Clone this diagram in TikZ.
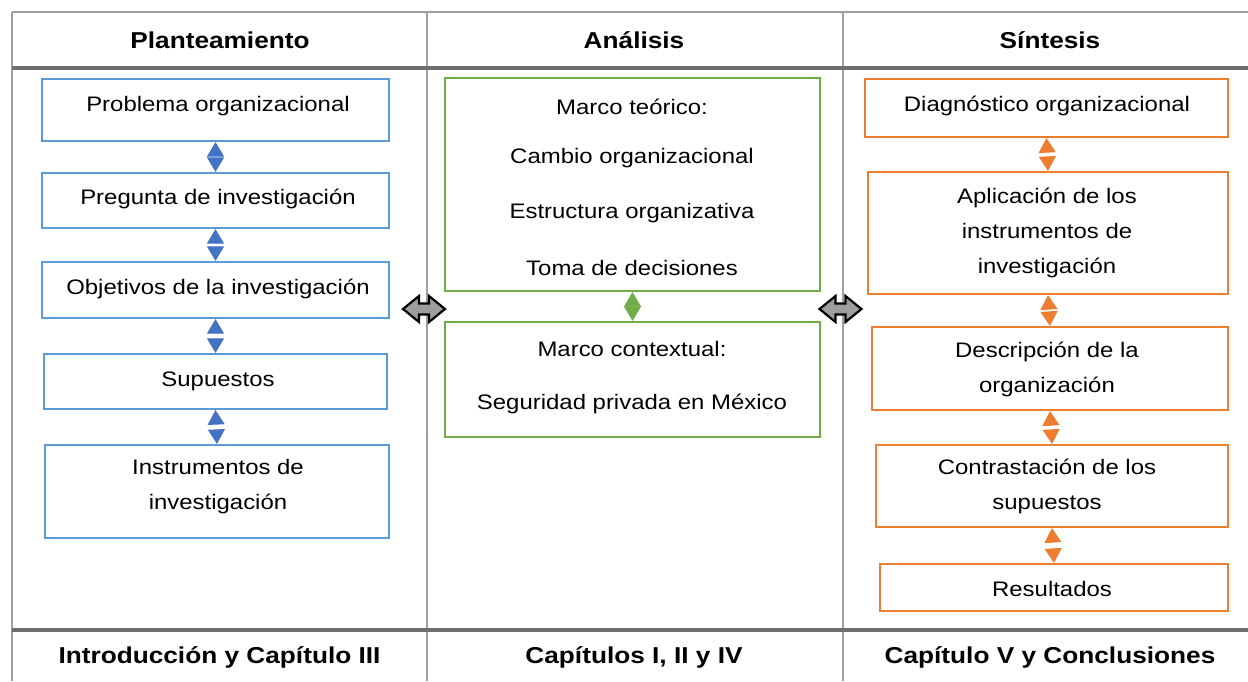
\documentclass[tikz,border=0pt]{standalone}
\usepackage{fontspec}
\setmainfont[FakeStretch=1.14]{Liberation Sans}
\usetikzlibrary{arrows.meta}
\definecolor{bblue}{HTML}{5B9BD5}
\definecolor{ablue}{HTML}{4472C4}
\definecolor{bgreen}{HTML}{70AD47}
\definecolor{borange}{HTML}{ED7D31}
\definecolor{tgray}{HTML}{A0A0A0}
\definecolor{tdark}{HTML}{6E6E6E}
\definecolor{agray}{HTML}{9E9E9E}
\tikzset{
  tline/.style={draw=tgray, line width=2pt},
  tthick/.style={draw=tdark, line width=4pt},
  hdr/.style={inner sep=0pt, font=\fontsize{23}{28}\selectfont\bfseries},
  txt/.style={inner sep=0pt, align=center, font=\fontsize{21}{35}\selectfont},
  box/.style={draw=#1, line width=2.2pt, inner sep=0pt, fill=white},
  dbl/.style={draw=white, line width=0.8pt, {Triangle[width=17pt,length=14.5pt,color=#1]}-{Triangle[width=17pt,length=14.5pt,color=#1]}},
  bigarr/.style={draw=black, fill=agray, line width=2.2pt, line join=miter}
}
\begin{document}
\begin{tikzpicture}[x=1pt,y=-1pt]
\useasboundingbox (0,0) rectangle (1248,681);
% table
\draw[tline] (12,12) -- (1248,12);
\draw[tline] (12,12) -- (12,681);
\draw[tline] (427,12) -- (427,681);
\draw[tline] (843,12) -- (843,681);
\draw[tthick] (12,68) -- (1248,68);
\draw[tthick] (12,630) -- (1248,630);
% headers
\node[hdr] (h1) at (220,40) {Planteamiento};
\node[hdr] (h2) at (634,40) {Análisis};
\node[hdr] (h3) at (1050,40) {Síntesis};
\node[hdr] (f1) at (219.5,657) {Introducción y Capítulo III};
\node[hdr] (f2) at (634,657) {Capítulos I, II y IV};
\node[hdr] (f3) at (1050,657) {Capítulo V y Conclusiones};
% blue column
\node[box=bblue, minimum width=347pt, minimum height=62pt] (b1) at (215.5,110) {};
\node[box=bblue, minimum width=347pt, minimum height=55pt] (b2) at (215.5,200.5) {};
\node[box=bblue, minimum width=347pt, minimum height=56pt] (b3) at (215.5,290) {};
\node[box=bblue, minimum width=343pt, minimum height=55pt] (b4) at (215.5,381.5) {};
\node[box=bblue, minimum width=344pt, minimum height=93pt] (b5) at (217,491.5) {};
\node[txt] (tb1) at (218,106) {Problema organizacional};
\node[txt] (tb2) at (218,199) {Pregunta de investigación};
\node[txt] (tb3) at (218,289) {Objetivos de la investigación};
\node[txt] (tb4) at (218,381) {Supuestos};
\node[txt] (tb5) at (218,486.5) {Instrumentos de\\investigación};
\draw[dbl=ablue] (b1.south) -- (b2.north);
\draw[dbl=ablue] (b2.south) -- (b3.north);
\draw[dbl=ablue] (b3.south) -- (b4.north);
\draw[dbl=ablue] (b4.south) -- (b5.north);
% green column
\node[box=bgreen, minimum width=375pt, minimum height=213pt] (g1) at (632.5,184.5) {};
\node[box=bgreen, minimum width=375pt, minimum height=115pt] (g2) at (632.5,379.5) {};
\node[txt] (tg1) at (632,107) {Marco teórico:};
\node[txt] (tg2) at (632,158) {Cambio organizacional};
\node[txt] (tg3) at (632,213) {Estructura organizativa};
\node[txt] (tg4) at (632,268) {Toma de decisiones};
\node[txt] (tg5) at (632,349) {Marco contextual:};
\node[txt] (tg6) at (632,404) {Seguridad privada en México};
\draw[dbl=bgreen] (g1.south) -- (g2.north);
% orange column
\node[box=borange, minimum width=363pt, minimum height=58pt] (o1) at (1046.5,108) {};
\node[box=borange, minimum width=360pt, minimum height=122pt] (o2) at (1048,233) {};
\node[box=borange, minimum width=356pt, minimum height=83pt] (o3) at (1050,368.5) {};
\node[box=borange, minimum width=352pt, minimum height=82pt] (o4) at (1052,486) {};
\node[box=borange, minimum width=348pt, minimum height=47pt] (o5) at (1054,587.5) {};
\node[txt] (to1) at (1047,106) {Diagnóstico organizacional};
\node[txt] (to2) at (1047,232.5) {Aplicación de los\\instrumentos de\\investigación};
\node[txt] (to3) at (1047,369.5) {Descripción de la\\organización};
\node[txt] (to4) at (1047,486.5) {Contrastación de los\\supuestos};
\node[txt] (to5) at (1052,589) {Resultados};
\draw[dbl=borange] (o1.south) -- (o2.north);
\draw[dbl=borange] (o2.south) -- (o3.north);
\draw[dbl=borange] (o3.south) -- (o4.north);
\draw[dbl=borange] (o4.south) -- (o5.north);
% big gray double arrows
\coordinate (a1) at (424,309);
\coordinate (a2) at (840.5,309);
\foreach \c in {a1,a2}{
  \draw[bigarr] ([xshift=-21pt]\c) -- ([xshift=-5pt,yshift=13pt]\c) -- ([xshift=-5pt,yshift=5.5pt]\c)
    -- ([xshift=5pt,yshift=5.5pt]\c) -- ([xshift=5pt,yshift=13pt]\c) -- ([xshift=21pt]\c)
    -- ([xshift=5pt,yshift=-13pt]\c) -- ([xshift=5pt,yshift=-5.5pt]\c) -- ([xshift=-5pt,yshift=-5.5pt]\c)
    -- ([xshift=-5pt,yshift=-13pt]\c) -- cycle;
}
\end{tikzpicture}
\end{document}
